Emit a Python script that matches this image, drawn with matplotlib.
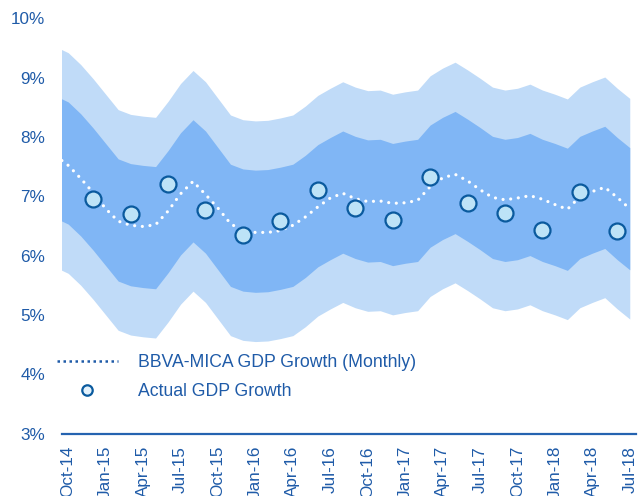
import matplotlib
matplotlib.use("Agg")
import matplotlib.pyplot as plt
from matplotlib.lines import Line2D
import numpy as np
import pandas as pd

plt.rcParams['font.family'] = ['Liberation Sans', 'DejaVu Sans']

# Monthly series, Sep-14 .. Jul-18 (Sep-14 only partly visible at the left edge)
months = pd.date_range('2014-09-01', periods=47, freq='MS').strftime('%b-%y').tolist()

outer_upper = [9.52, 9.42, 9.22, 8.98, 8.72, 8.46, 8.38, 8.35, 8.33, 8.60, 8.90, 9.12, 8.93, 8.65,
               8.37, 8.29, 8.27, 8.28, 8.32, 8.37, 8.52, 8.70, 8.82, 8.93, 8.84, 8.78, 8.79, 8.72,
               8.76, 8.79, 9.03, 9.16, 9.26, 9.13, 8.99, 8.84, 8.79, 8.82, 8.89, 8.79, 8.72, 8.64,
               8.84, 8.93, 9.01, 8.82, 8.65]
inner_upper = [8.69, 8.59, 8.39, 8.15, 7.89, 7.63, 7.55, 7.52, 7.50, 7.77, 8.07, 8.29, 8.10, 7.82,
               7.54, 7.46, 7.44, 7.45, 7.49, 7.54, 7.69, 7.87, 7.99, 8.10, 8.01, 7.95, 7.96, 7.89,
               7.93, 7.96, 8.20, 8.33, 8.43, 8.30, 8.16, 8.01, 7.96, 7.99, 8.06, 7.96, 7.89, 7.81,
               8.01, 8.10, 8.18, 7.99, 7.82]
inner_lower = [6.63, 6.53, 6.33, 6.09, 5.83, 5.57, 5.49, 5.46, 5.44, 5.71, 6.01, 6.23, 6.04, 5.76,
               5.48, 5.40, 5.38, 5.39, 5.43, 5.48, 5.63, 5.81, 5.93, 6.04, 5.95, 5.89, 5.90, 5.83,
               5.87, 5.90, 6.14, 6.27, 6.37, 6.24, 6.10, 5.95, 5.90, 5.93, 6.00, 5.90, 5.83, 5.75,
               5.95, 6.04, 6.12, 5.93, 5.76]
outer_lower = [5.80, 5.70, 5.50, 5.26, 5.00, 4.74, 4.66, 4.63, 4.61, 4.88, 5.18, 5.40, 5.21, 4.93,
               4.65, 4.57, 4.55, 4.56, 4.60, 4.65, 4.80, 4.98, 5.10, 5.21, 5.12, 5.06, 5.07, 5.00,
               5.04, 5.07, 5.31, 5.44, 5.54, 5.41, 5.27, 5.12, 5.07, 5.10, 5.17, 5.07, 5.00, 4.92,
               5.12, 5.21, 5.29, 5.10, 4.93]
mica_monthly = [7.68, 7.52, 7.30, 7.06, 6.79, 6.58, 6.51, 6.49, 6.52, 6.75, 7.04, 7.25, 7.03, 6.80,
                6.54, 6.41, 6.39, 6.39, 6.42, 6.51, 6.65, 6.82, 6.97, 7.05, 6.96, 6.91, 6.92, 6.88,
                6.89, 6.93, 7.16, 7.31, 7.37, 7.26, 7.11, 6.98, 6.94, 6.97, 7.01, 6.95, 6.86, 6.78,
                6.99, 7.08, 7.15, 6.98, 6.79]

# Quarterly actual GDP growth, plotted at the last month of each quarter
quarter_months = ['Dec-14', 'Mar-15', 'Jun-15', 'Sep-15', 'Dec-15', 'Mar-16', 'Jun-16', 'Sep-16',
                  'Dec-16', 'Mar-17', 'Jun-17', 'Sep-17', 'Dec-17', 'Mar-18', 'Jun-18']
actual_gdp = [6.96, 6.70, 7.21, 6.76, 6.35, 6.58, 7.11, 6.80, 6.60, 7.32, 6.89, 6.71, 6.43, 7.07, 6.41]

tick_labels = ['Oct-14', 'Jan-15', 'Apr-15', 'Jul-15', 'Oct-15', 'Jan-16', 'Apr-16', 'Jul-16',
               'Oct-16', 'Jan-17', 'Apr-17', 'Jul-17', 'Oct-17', 'Jan-18', 'Apr-18', 'Jul-18']

TEXT = '#1f5ba8'
LIGHT = '#c0dbf8'
MID = '#80b6f5'

x = np.arange(len(months)) - 1  # Oct-14 at 0
pos = {m: i - 1 for i, m in enumerate(months)}

W, H = 643, 496
fig = plt.figure(figsize=(W / 100, H / 100), dpi=100)
ax = fig.add_axes([62 / W, (H - 433.5) / H, (636 - 62) / W, (433.5 - 18.3) / H])

ax.fill_between(x, outer_lower, outer_upper, color=LIGHT, lw=0, zorder=1)
ax.fill_between(x, inner_lower, inner_upper, color=MID, lw=0, zorder=2)
ax.plot(x, mica_monthly, color='white', lw=2.3, linestyle=(0, (0.01, 2.4)),
        dash_capstyle='round', zorder=3)
ax.plot([pos[m] for m in quarter_months], actual_gdp, linestyle='none', marker='o',
        markersize=11.5, markerfacecolor='#bde3f7', markeredgecolor='#0a5a9e',
        markeredgewidth=1.6, zorder=4)

ax.set_xlim(-0.5, 45.5)
ax.set_ylim(3, 10)
ax.set_yticks(np.arange(3, 11))
ax.set_yticklabels([f'{v}%' for v in range(3, 11)])
ax.set_xticks([pos[m] for m in tick_labels])
ax.set_xticklabels(tick_labels, rotation=90, va='top', ha='center')

for s in ['top', 'right', 'left']:
    ax.spines[s].set_visible(False)
ax.spines['bottom'].set_color('#2563b0')
ax.spines['bottom'].set_linewidth(1.6)
ax.spines['bottom'].set_zorder(5)
ax.tick_params(axis='both', length=0, colors=TEXT, labelsize=12.3)
ax.tick_params(axis='y', pad=12)
ax.tick_params(axis='x', pad=9)

handles = [
    Line2D([], [], color='#1f5ba8', lw=1.8, linestyle=(0, (1, 1.4))),
    Line2D([], [], linestyle='none', marker='o', markersize=7.5, markerfacecolor='#e4f2fc',
           markeredgecolor='#0a5a9e', markeredgewidth=1.6),
]
leg = fig.legend(handles, ['BBVA-MICA GDP Growth (Monthly)', 'Actual GDP Growth'],
                 loc='upper left', bbox_to_anchor=(57 / W, 1 - 354 / H),
                 frameon=False, fontsize=12.7, handlelength=3.45, handletextpad=1.12,
                 labelspacing=0.68, borderpad=0, borderaxespad=0)
for t in leg.get_texts():
    t.set_color(TEXT)

fig.savefig('out.png', dpi=100)
